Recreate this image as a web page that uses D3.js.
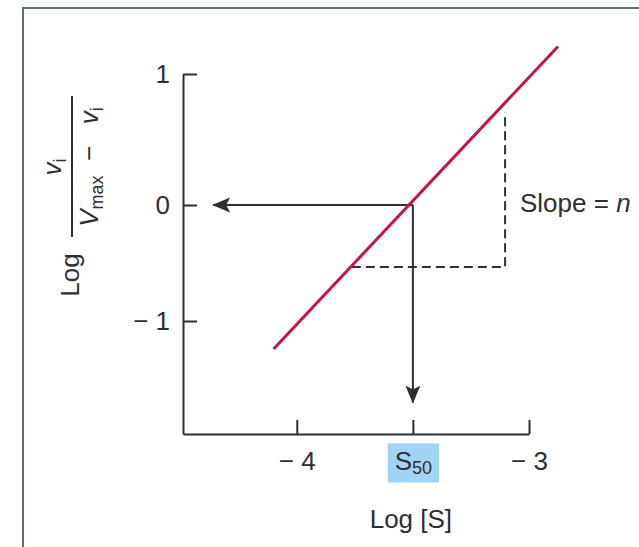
<!DOCTYPE html>
<html>
<head>
<meta charset="utf-8">
<script src="https://cdn.jsdelivr.net/npm/d3@7"></script>
<style>
  html, body { margin: 0; padding: 0; background: #fff; }
  svg { display: block; font-family: "Liberation Sans", Arial, Helvetica, sans-serif; }
</style>
</head>
<body>
<svg id="chart" width="639" height="547"></svg>
<script>
// Hill plot: log(v / (Vmax - v)) against log [S]

// data ---------------------------------------------------------------
var yTicks = [-1, 0, 1];
var yTickLabels = ["\u2212 1", "0", "1"];
var xTicks = [-4, -3.5, -3];
var xTickLabels = ["\u2212 4", "S50", "\u2212 3"];
var hillLine = [{ x: -4.10, y: -1.24 }, { x: -2.875, y: 1.21 }];
var s50 = { x: -3.5, y: 0 };
var arrowLeftTo = { x: -4.36, y: 0 };
var arrowDownTo = { x: -3.5, y: -1.70 };
var slopeTriangle = [{ x: -3.763, y: -0.534 }, { x: -3.103, y: -0.534 }, { x: -3.103, y: 0.71 }];

var INK = "#2e2e34", RED = "#c4173f", FS = 26, SUB = 18;

var svg = d3.select("#chart");

// outer frame (runs off the right and bottom edges)
svg.append("rect")
  .attr("x", 23).attr("y", 8).attr("width", 700).attr("height", 700)
  .attr("fill", "none").attr("stroke", "#5a6a80").attr("stroke-width", 2);

// scales: drawn axis is not evenly spaced between ticks, so y is polylinear
var x = d3.scaleLinear().domain([-4.49, -3]).range([183, 529]);
var y = d3.scaleLinear().domain([-1.97, -1, 0, 1]).range([434, 321, 205, 74]);

// y axis, ticks pointing inwards
var yAxis = svg.append("g").attr("transform", "translate(" + x(-4.49) + ",0)")
  .call(d3.axisLeft(y).tickValues(yTicks).tickSize(-14).tickSizeOuter(0).tickPadding(13)
    .tickFormat(function (d, i) { return yTickLabels[i]; }));

// x axis
var xAxis = svg.append("g").attr("transform", "translate(0," + y(-1.97) + ")")
  .call(d3.axisBottom(x).tickValues(xTicks).tickSize(-14).tickSizeOuter(0).tickPadding(18)
    .tickFormat(function (d, i) { return xTickLabels[i]; }));

[yAxis, xAxis].forEach(function (g) {
  g.selectAll("path, line").attr("stroke", INK).attr("stroke-width", 2);
  g.selectAll("text").attr("fill", INK).attr("font-size", FS)
    .attr("font-family", "\"Liberation Sans\", Arial, sans-serif");
});

// S50 tick label: subscript + highlight box
xAxis.selectAll(".tick").filter(function (d) { return d === -3.5; }).each(function () {
  var t = d3.select(this).select("text").text(null);
  t.append("tspan").text("S");
  t.append("tspan").attr("font-size", SUB).attr("dy", 4).text("50");
  var bb = t.node().getBBox();
  d3.select(this).insert("rect", "text")
    .attr("x", bb.x - 7).attr("y", bb.y - 3)
    .attr("width", bb.width + 14).attr("height", bb.height + 7)
    .attr("fill", "#a3d3f2");
});

// x axis title
svg.append("text")
  .attr("x", x(-3.5) - 2).attr("y", 528)
  .attr("text-anchor", "middle").attr("font-size", FS).attr("fill", INK)
  .text("Log [S]");

// y axis title: Log (v_i / (V_max - v_i)), rotated
var yl = svg.append("g").attr("transform", "translate(72,167) rotate(-90)")
  .attr("fill", INK).attr("font-size", FS);
yl.append("line").attr("x1", -70).attr("x2", 71).attr("y1", 0).attr("y2", 0)
  .attr("stroke", INK).attr("stroke-width", 2);
var num = yl.append("text").attr("x", 0).attr("y", -11).attr("text-anchor", "middle");
num.append("tspan").attr("font-style", "italic").text("v");
num.append("tspan").attr("font-size", SUB).attr("dy", 5).text("i");
var den = yl.append("text").attr("x", 0).attr("y", 26).attr("text-anchor", "middle");
den.append("tspan").attr("font-style", "italic").text("V");
den.append("tspan").attr("font-size", SUB).attr("dy", 5).text("max");
den.append("tspan").attr("dy", -5).text("\u00a0\u00a0\u2212\u00a0\u00a0\u00a0");
den.append("tspan").attr("font-style", "italic").text("v");
den.append("tspan").attr("font-size", SUB).attr("dy", 5).text("i");
yl.append("text").attr("x", -108).attr("y", 7).attr("text-anchor", "middle").text("Log");

// arrowhead marker
svg.append("defs").append("marker")
  .attr("id", "arrow").attr("markerUnits", "userSpaceOnUse")
  .attr("viewBox", "0 -8 18 16").attr("refX", 17).attr("refY", 0)
  .attr("markerWidth", 18).attr("markerHeight", 16).attr("orient", "auto")
  .append("path").attr("d", "M0,-7.5L18,0L0,7.5L4,0Z").attr("fill", INK);

// slope triangle (dashed)
var line = d3.line().x(function (d) { return x(d.x); }).y(function (d) { return y(d.y); });
svg.append("path").datum(slopeTriangle).attr("d", line)
  .attr("fill", "none").attr("stroke", INK).attr("stroke-width", 2)
  .attr("stroke-dasharray", "9,5");

// arrows from S50 point to the axes
[arrowLeftTo, arrowDownTo].forEach(function (p) {
  svg.append("path").datum([s50, p]).attr("d", line)
    .attr("fill", "none").attr("stroke", INK).attr("stroke-width", 2)
    .attr("marker-end", "url(#arrow)");
});

// Hill line
svg.append("path").datum(hillLine).attr("d", line)
  .attr("fill", "none").attr("stroke", RED).attr("stroke-width", 3);

// slope label
var sl = svg.append("text").attr("x", 520).attr("y", 212)
  .attr("font-size", FS).attr("fill", INK);
sl.append("tspan").text("Slope = ");
sl.append("tspan").attr("font-style", "italic").text("n");
</script>
</body>
</html>
